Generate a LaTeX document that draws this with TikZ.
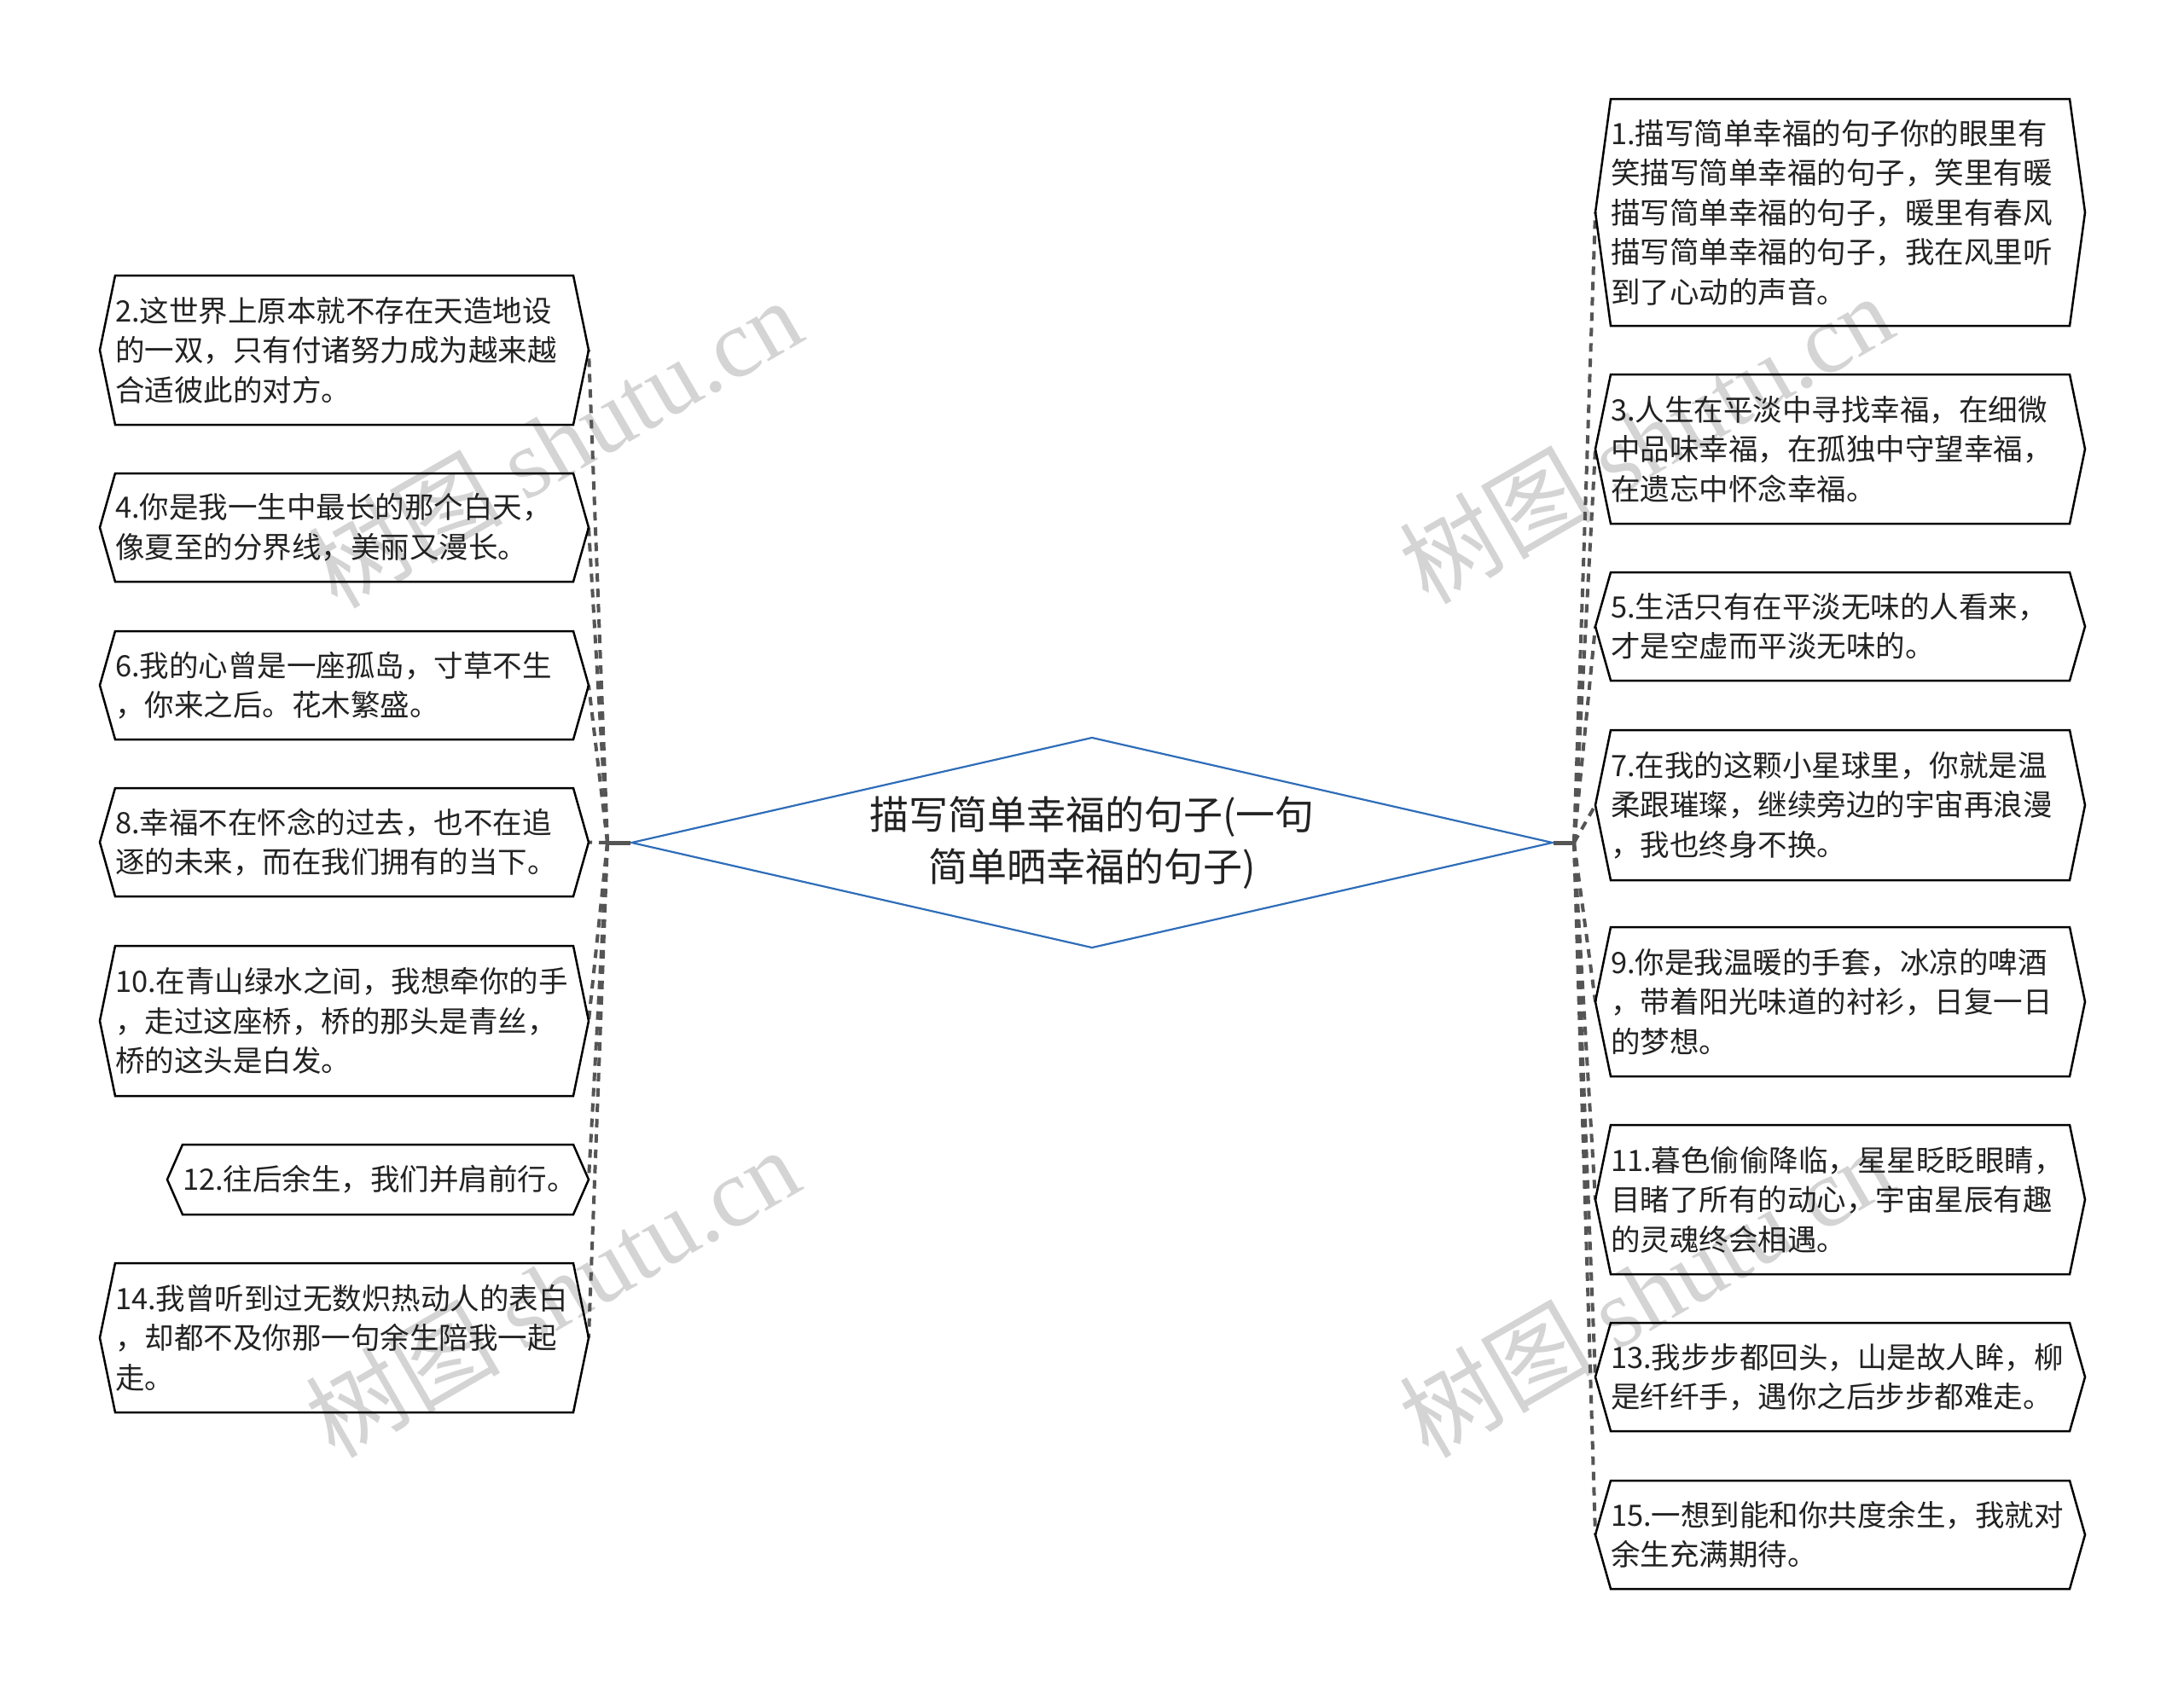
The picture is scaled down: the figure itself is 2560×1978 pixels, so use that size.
\documentclass[tikz,border=0pt]{standalone}
\usepackage{fontspec}
\newfontfamily\cjk{Noto Sans CJK SC}
\newfontfamily\wmserif{Liberation Serif}
\usetikzlibrary{shapes.geometric,calc}
\definecolor{diablue}{HTML}{2E6DB9}
\definecolor{txtcol}{HTML}{222222}
\definecolor{linecol}{HTML}{555555}
\definecolor{wmcol}{HTML}{D4D4D4}
\tikzset{
  txt/.style={font=\cjk\fontsize{34.5pt}{46.5pt}\selectfont, text=txtcol, align=left,
    inner xsep=0pt, inner ysep=0pt, outer sep=0pt, anchor=north west},
  hexline/.style={draw=black, line width=2.5pt, line join=miter},
  conn/.style={draw=linecol, line width=4pt, dash pattern=on 10pt off 8pt},
  stub/.style={draw=linecol, line width=5pt},
  wm/.style={font=\cjk\fontsize{114pt}{114pt}\selectfont, text=wmcol, rotate=30, inner sep=0pt},
  rootbox/.style={diamond, draw=diablue, line width=2.2pt, minimum width=1080pt, minimum height=247pt,
    inner sep=0pt, shape aspect=4.37, font=\cjk\fontsize{46pt}{61pt}\selectfont, align=center, text=txtcol}
}
% name, x of top-left corner, y top, width, height, text
\newcommand\hexnode[6]{%
  \node[txt, text width=#4pt, minimum height=#5pt] (#1) at (#2,#3) {#6};
  \coordinate (#1-l) at ([xshift=-18pt]#1.west);
  \coordinate (#1-r) at ([xshift=18pt]#1.east);
}
\newcommand\hexdraw[1]{%
  \draw[hexline] (#1.north west) -- (#1.north east) -- (#1-r) -- (#1.south east) -- (#1.south west) -- (#1-l) -- cycle;
}
\begin{document}
\begin{tikzpicture}[x=1pt,y=-1pt]
\useasboundingbox (0,0) rectangle (2560,1978);
\fill[white] (0,0) rectangle (2560,1978);

% watermarks
\node[wm] (wm1) at (650,519) {树图 {\wmserif shutu.cn}};
\node[wm] (wm2) at (647,1515) {树图 {\wmserif shutu.cn}};
\node[wm] (wm3) at (1929,514) {树图 {\wmserif shutu.cn}};
\node[wm] (wm4) at (1929,1515) {树图 {\wmserif shutu.cn}};

% root
\node[rootbox] (root) at (1280,988) {描写简单幸福的句子(一句\\简单晒幸福的句子)};
\coordinate (JL) at (712,988);
\coordinate (JR) at (1845,988);

% left nodes
\hexnode{n2}{135}{323}{537}{175}{2.这世界上原本就不存在天造地设\\的一双，只有付诸努力成为越来越\\合适彼此的对方。}
\hexnode{n4}{135}{555}{537}{127}{4.你是我一生中最长的那个白天，\\像夏至的分界线，美丽又漫长。}
\hexnode{n6}{135}{740}{537}{127}{6.我的心曾是一座孤岛，寸草不生\\，你来之后。花木繁盛。}
\hexnode{n8}{135}{924}{537}{127}{8.幸福不在怀念的过去，也不在追\\逐的未来，而在我们拥有的当下。}
\hexnode{n10}{135}{1109}{537}{176}{10.在青山绿水之间，我想牵你的手\\，走过这座桥，桥的那头是青丝，\\桥的这头是白发。}
\hexnode{n12}{214}{1342}{458}{82}{12.往后余生，我们并肩前行。}
\hexnode{n14}{135}{1481}{537}{175}{14.我曾听到过无数炽热动人的表白\\，却都不及你那一句余生陪我一起\\走。}

% right nodes
\hexnode{n1}{1888}{116}{538}{266}{1.描写简单幸福的句子你的眼里有\\笑描写简单幸福的句子，笑里有暖\\描写简单幸福的句子，暖里有春风\\描写简单幸福的句子，我在风里听\\到了心动的声音。}
\hexnode{n3}{1888}{439}{538}{175}{3.人生在平淡中寻找幸福，在细微\\中品味幸福，在孤独中守望幸福，\\在遗忘中怀念幸福。}
\hexnode{n5}{1888}{671}{538}{127}{5.生活只有在平淡无味的人看来，\\才是空虚而平淡无味的。}
\hexnode{n7}{1888}{856}{538}{176}{7.在我的这颗小星球里，你就是温\\柔跟璀璨，继续旁边的宇宙再浪漫\\，我也终身不换。}
\hexnode{n9}{1888}{1087}{538}{175}{9.你是我温暖的手套，冰凉的啤酒\\，带着阳光味道的衬衫，日复一日\\的梦想。}
\hexnode{n11}{1888}{1319}{538}{175}{11.暮色偷偷降临，星星眨眨眼睛，\\目睹了所有的动心，宇宙星辰有趣\\的灵魂终会相遇。}
\hexnode{n13}{1888}{1551}{538}{127}{13.我步步都回头，山是故人眸，柳\\是纤纤手，遇你之后步步都难走。}
\hexnode{n15}{1888}{1736}{538}{127}{15.一想到能和你共度余生，我就对\\余生充满期待。}

% connectors
\foreach \n in {n2,n4,n6,n8,n10,n12,n14} {\draw[conn] (JL) -- (\n-r);}
\foreach \n in {n1,n3,n5,n7,n9,n11,n13,n15} {\draw[conn] (JR) -- (\n-l);}
\draw[stub] (JL) -- (root.west);
\draw[stub] (JR) -- (root.east);

% boxes
\foreach \n in {n2,n4,n6,n8,n10,n12,n14,n1,n3,n5,n7,n9,n11,n13,n15} {\hexdraw{\n}}
\end{tikzpicture}
\end{document}
